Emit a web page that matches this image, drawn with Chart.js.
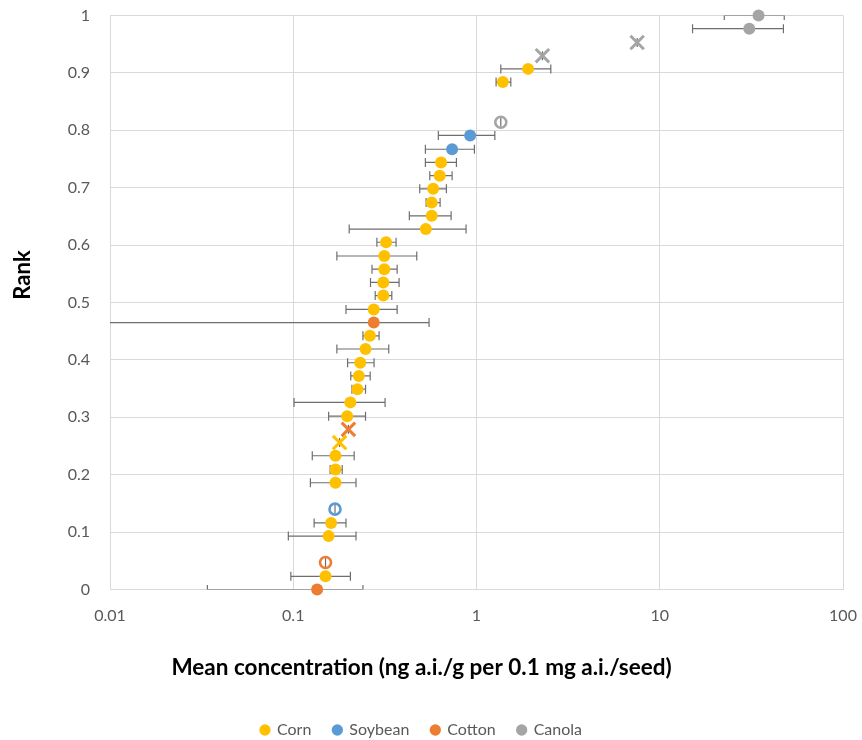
<!DOCTYPE html>
<html>
<head>
<meta charset="utf-8">
<script src="https://cdn.jsdelivr.net/npm/chart.js@4/dist/chart.umd.min.js"></script>
<style>
  html,body{margin:0;padding:0;background:#fff}
  #wrap{width:862px;height:740px;position:relative}
</style>
</head>
<body>
<div id="wrap"><canvas id="c"></canvas></div>
<script>
/* seed treatment ranks vs. mean concentration, log x axis with error bars */
const crops=['Corn','Soybean','Cotton','Canola'];
const cropColors=['#FFC000','#5B9BD5','#ED7D31','#A5A5A5'];
const xTicks=[0.01,0.1,1,10,100];
const yTicks=[0,0.1,0.2,0.3,0.4,0.5,0.6,0.7,0.8,0.9,1];
const xTitle='Mean concentration (ng a.i./g per 0.1 mg a.i./seed)';
const yTitle='Rank';

// filled circles: mean, lower, upper, rank
const cornMean=[0.150,0.156,0.161,0.170,0.170,0.170,0.197,0.205,0.224,0.228,0.232,0.248,0.262,0.275,0.310,0.310,0.314,0.314,0.321,0.529,0.570,0.570,0.580,0.630,0.641,1.392,1.912];
const cornLow =[0.097,0.094,0.130,0.124,0.159,0.127,0.156,0.101,0.209,0.206,0.198,0.173,0.240,0.194,0.280,0.264,0.269,0.173,0.286,0.202,0.430,0.531,0.490,0.556,0.526,1.279,1.357];
const cornHigh=[0.205,0.220,0.194,0.220,0.185,0.215,0.248,0.317,0.248,0.263,0.276,0.332,0.294,0.369,0.345,0.378,0.369,0.472,0.364,0.877,0.727,0.633,0.685,0.736,0.777,1.539,2.544];
const cornRank=[0.023,0.093,0.116,0.186,0.209,0.233,0.302,0.326,0.349,0.372,0.395,0.419,0.442,0.488,0.512,0.535,0.558,0.581,0.605,0.628,0.651,0.674,0.698,0.721,0.744,0.884,0.907];

const soyMean=[0.736,0.923];
const soyLow =[0.526,0.619];
const soyHigh=[0.974,1.259];
const soyRank=[0.767,0.791];

const cottonMean=[0.135,0.275];
const cottonLow =[0.034,0.001];
const cottonHigh=[0.240,0.551];
const cottonRank=[0.000,0.465];

const canolaMean=[30.8,34.6];
const canolaLow =[15.1,22.5];
const canolaHigh=[47.3,47.8];
const canolaRank=[0.977,1.000];

// other markers (no spread): open circles, crosses, stars
const cornCrossMean=[0.179],   cornCrossRank=[0.256];
const soyOpenMean=[0.169],     soyOpenRank=[0.140];
const cottonOpenMean=[0.150],  cottonOpenRank=[0.047];
const cottonCrossMean=[0.200], cottonCrossRank=[0.279];
const canolaOpenMean=[1.357],  canolaOpenRank=[0.814];
const canolaStarMean=[2.29,7.53], canolaStarRank=[0.930,0.953];

const FONT='Lato, "Open Sans", sans-serif';

function pts(mean,rank,low,high){
  return mean.map((m,i)=>({x:m,y:rank[i],lo:low?low[i]:m,hi:high?high[i]:m}));
}
function filled(label,ci,mean,rank,low,high){
  return {label,data:pts(mean,rank,low,high),pointStyle:'circle',pointRadius:6,pointHoverRadius:6,
    backgroundColor:cropColors[ci],borderColor:cropColors[ci],pointBorderWidth:0,clip:false,showLine:false};
}
function openC(label,ci,mean,rank){
  return {label,data:pts(mean,rank),pointStyle:'circle',pointRadius:5.5,pointHoverRadius:5.5,
    backgroundColor:'rgba(0,0,0,0)',borderColor:cropColors[ci],pointBorderWidth:2.6,clip:false,showLine:false};
}
function cross(label,ci,mean,rank){
  return {label,data:pts(mean,rank),pointStyle:'crossRot',pointRadius:9.5,pointHoverRadius:9.5,
    backgroundColor:cropColors[ci],borderColor:cropColors[ci],pointBorderWidth:3,clip:false,showLine:false};
}

const datasets=[
  filled(crops[0],0,cornMean,cornRank,cornLow,cornHigh),
  filled(crops[1],1,soyMean,soyRank,soyLow,soyHigh),
  filled(crops[2],2,cottonMean,cottonRank,cottonLow,cottonHigh),
  filled(crops[3],3,canolaMean,canolaRank,canolaLow,canolaHigh),
  cross('Corn x',0,cornCrossMean,cornCrossRank),
  openC('Soybean o',1,soyOpenMean,soyOpenRank),
  openC('Cotton o',2,cottonOpenMean,cottonOpenRank),
  cross('Cotton x',2,cottonCrossMean,cottonCrossRank),
  openC('Canola o',3,canolaOpenMean,canolaOpenRank),
  cross('Canola x',3,canolaStarMean,canolaStarRank)
];

// horizontal error bars, drawn under the markers and clipped to the plot
const errBars={
  id:'errBars',
  beforeDatasetsDraw(chart){
    const {ctx,chartArea:a,scales:{x,y}}=chart;
    ctx.save();
    ctx.beginPath(); ctx.rect(a.left,a.top,a.right-a.left,a.bottom-a.top); ctx.clip();
    ctx.strokeStyle='#6e6e6e'; ctx.lineWidth=1.2;
    chart.data.datasets.forEach(ds=>{
      ds.data.forEach(p=>{
        const py=y.getPixelForValue(p.y);
        const x1=x.getPixelForValue(p.lo), x2=x.getPixelForValue(p.hi);
        ctx.beginPath();
        ctx.moveTo(x1,py); ctx.lineTo(x2,py);
        ctx.moveTo(x1,py-4.5); ctx.lineTo(x1,py+4.5);
        ctx.moveTo(x2,py-4.5); ctx.lineTo(x2,py+4.5);
        ctx.stroke();
      });
    });
    ctx.restore();
  }
};

// y axis title sits a bit above the plot middle, as in the original
const rankTitle={
  id:'rankTitle',
  afterDraw(chart){
    const ctx=chart.ctx;
    ctx.save();
    ctx.translate(23,275); ctx.rotate(-Math.PI/2);
    ctx.font='bold 22px '+FONT; ctx.fillStyle='#000';
    ctx.textAlign='center'; ctx.textBaseline='middle';
    ctx.fillText(yTitle,0,0);
    ctx.restore();
  }
};

new Chart(document.getElementById('c'),{
  type:'scatter',
  data:{datasets},
  plugins:[errBars,rankTitle],
  options:{
    responsive:true,maintainAspectRatio:false,animation:false,
    layout:{padding:{left:0,right:19,top:15.5,bottom:-8}},
    plugins:{
      tooltip:{enabled:false},
      title:{display:true,text:xTitle,position:'bottom',weight:500,
        color:'#000',font:{family:FONT,size:22.5,weight:'bold'},padding:{top:5,bottom:18.5}},
      legend:{
        position:'bottom',
        labels:{
          filter:(item)=>crops.includes(item.text),
          usePointStyle:true,pointStyle:'circle',boxWidth:8,boxHeight:8,
          color:'#595959',font:{family:FONT,size:16},padding:22
        }
      }
    },
    scales:{
      x:{
        type:'logarithmic',min:0.01,max:100,
        afterBuildTicks:s=>{s.ticks=xTicks.map(v=>({value:v}));},
        afterFit:s=>{s.height=60; s.paddingLeft=0; s.paddingRight=0;},
        ticks:{color:'#595959',font:{family:FONT,size:16},padding:17,
          autoSkip:false,maxRotation:0,callback:v=>String(v)},
        grid:{color:'#d9d9d9',lineWidth:1,drawTicks:false},
        border:{color:'#d9d9d9'}
      },
      y:{
        min:0,max:1,
        afterBuildTicks:s=>{s.ticks=yTicks.map(v=>({value:v}));},
        afterFit:s=>{s.width=110; s.paddingTop=0; s.paddingBottom=0;},
        ticks:{color:'#595959',font:{family:FONT,size:16},padding:20,
          callback:v=>String(Number(v.toFixed(1)))},
        grid:{color:'#d9d9d9',lineWidth:1,drawTicks:false},
        border:{color:'#d9d9d9'}
      }
    }
  }
});
</script>
</body>
</html>
